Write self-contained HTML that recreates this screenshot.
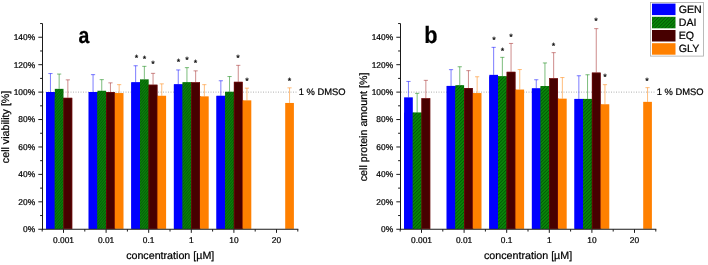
<!DOCTYPE html>
<html lang="en"><head><meta charset="utf-8"><title>Figure</title>
<style>html,body{margin:0;padding:0;background:#fff}svg{display:block;will-change:transform}text{font-family:"Liberation Sans",Arial,sans-serif;text-rendering:geometricPrecision;fill:#000;stroke:#000;stroke-width:0.22px}</style></head><body>
<svg width="708" height="265" viewBox="0 0 708 265">
<defs>
<pattern id="hg" patternUnits="userSpaceOnUse" width="2" height="2" patternTransform="rotate(-50)"><rect width="2" height="2" fill="#0b860b"/><rect width="2" height="0.8" fill="#065406"/></pattern>
<pattern id="he" patternUnits="userSpaceOnUse" width="2" height="2" patternTransform="rotate(-45)"><rect width="2" height="2" fill="#470000"/></pattern>
<pattern id="hl" patternUnits="userSpaceOnUse" width="2.4" height="2.4" patternTransform="rotate(-45)"><rect width="2.4" height="2.4" fill="#098709"/><rect width="2.4" height="0.7" fill="#045004"/></pattern>
</defs>
<rect width="708" height="265" fill="#fff"/>
<line x1="43.0" y1="92.11" x2="297.8" y2="92.11" stroke="#8c8c8c" stroke-width="0.7" stroke-dasharray="1 1.5"/>
<rect x="46.10" y="92.05" width="9.40" height="136.80" fill="#0000ff"/>
<rect x="46.10" y="92.05" width="8.70" height="136.80" fill="#0000ff"/>
<path d="M50.45 92.05V73.55M48.35 73.55H52.55" stroke="#0000ff" stroke-width="0.52" fill="none"/>
<rect x="54.80" y="97.85" width="9.40" height="131.00" fill="#008000"/>
<rect x="54.80" y="88.85" width="8.70" height="140.00" fill="url(#hg)"/>
<path d="M59.15 88.85V74.05M57.05 74.05H61.25" stroke="#008000" stroke-width="0.52" fill="none"/>
<rect x="63.50" y="97.85" width="8.70" height="131.00" fill="url(#he)"/>
<rect x="63.80" y="98.15" width="8.10" height="130.60" fill="none" stroke="#7a0c0c" stroke-width="0.6"/>
<path d="M67.85 97.85V79.85M65.75 79.85H69.95" stroke="#a02020" stroke-width="0.52" fill="none"/>
<rect x="88.70" y="92.05" width="9.40" height="136.80" fill="#0000ff"/>
<rect x="88.70" y="92.05" width="8.70" height="136.80" fill="#0000ff"/>
<path d="M93.05 92.05V74.65M90.95 74.65H95.15" stroke="#0000ff" stroke-width="0.52" fill="none"/>
<rect x="97.40" y="92.05" width="9.40" height="136.80" fill="#008000"/>
<rect x="97.40" y="90.75" width="8.70" height="138.10" fill="url(#hg)"/>
<path d="M101.75 90.75V79.65M99.65 79.65H103.85" stroke="#008000" stroke-width="0.52" fill="none"/>
<rect x="106.10" y="93.05" width="9.40" height="135.80" fill="#470000"/>
<rect x="106.10" y="92.05" width="8.70" height="136.80" fill="url(#he)"/>
<rect x="106.40" y="92.35" width="8.10" height="136.40" fill="none" stroke="#7a0c0c" stroke-width="0.6"/>
<path d="M110.45 92.05V82.85M108.35 82.85H112.55" stroke="#a02020" stroke-width="0.52" fill="none"/>
<rect x="114.80" y="93.05" width="8.70" height="135.80" fill="#ff8000"/>
<path d="M119.15 93.05V84.65M117.05 84.65H121.25" stroke="#ff8000" stroke-width="0.52" fill="none"/>
<rect x="131.30" y="82.35" width="9.40" height="146.50" fill="#0000ff"/>
<rect x="131.30" y="82.35" width="8.70" height="146.50" fill="#0000ff"/>
<path d="M135.65 82.35V65.75M133.55 65.75H137.75" stroke="#0000ff" stroke-width="0.52" fill="none"/>
<rect x="140.00" y="84.75" width="9.40" height="144.10" fill="#008000"/>
<rect x="140.00" y="79.35" width="8.70" height="149.50" fill="url(#hg)"/>
<path d="M144.35 79.35V66.35M142.25 66.35H146.45" stroke="#008000" stroke-width="0.52" fill="none"/>
<rect x="148.70" y="95.75" width="9.40" height="133.10" fill="#470000"/>
<rect x="148.70" y="84.75" width="8.70" height="144.10" fill="url(#he)"/>
<rect x="149.00" y="85.05" width="8.10" height="143.70" fill="none" stroke="#7a0c0c" stroke-width="0.6"/>
<path d="M153.05 84.75V73.35M150.95 73.35H155.15" stroke="#a02020" stroke-width="0.52" fill="none"/>
<rect x="157.40" y="95.75" width="8.70" height="133.10" fill="#ff8000"/>
<path d="M161.75 95.75V83.85M159.65 83.85H163.85" stroke="#ff8000" stroke-width="0.52" fill="none"/>
<rect x="173.90" y="84.35" width="9.40" height="144.50" fill="#0000ff"/>
<rect x="173.90" y="84.35" width="8.70" height="144.50" fill="#0000ff"/>
<path d="M178.25 84.35V69.95M176.15 69.95H180.35" stroke="#0000ff" stroke-width="0.52" fill="none"/>
<rect x="182.60" y="82.35" width="9.40" height="146.50" fill="#008000"/>
<rect x="182.60" y="82.35" width="8.70" height="146.50" fill="url(#hg)"/>
<path d="M186.95 82.35V67.65M184.85 67.65H189.05" stroke="#008000" stroke-width="0.52" fill="none"/>
<rect x="191.30" y="96.35" width="9.40" height="132.50" fill="#470000"/>
<rect x="191.30" y="82.35" width="8.70" height="146.50" fill="url(#he)"/>
<rect x="191.60" y="82.65" width="8.10" height="146.10" fill="none" stroke="#7a0c0c" stroke-width="0.6"/>
<path d="M195.65 82.35V70.85M193.55 70.85H197.75" stroke="#a02020" stroke-width="0.52" fill="none"/>
<rect x="200.00" y="96.35" width="8.70" height="132.50" fill="#ff8000"/>
<path d="M204.35 96.35V84.65M202.25 84.65H206.45" stroke="#ff8000" stroke-width="0.52" fill="none"/>
<rect x="216.50" y="95.85" width="9.40" height="133.00" fill="#0000ff"/>
<rect x="216.50" y="95.85" width="8.70" height="133.00" fill="#0000ff"/>
<path d="M220.85 95.85V80.75M218.75 80.75H222.95" stroke="#0000ff" stroke-width="0.52" fill="none"/>
<rect x="225.20" y="91.85" width="9.40" height="137.00" fill="#008000"/>
<rect x="225.20" y="91.85" width="8.70" height="137.00" fill="url(#hg)"/>
<path d="M229.55 91.85V76.55M227.45 76.55H231.65" stroke="#008000" stroke-width="0.52" fill="none"/>
<rect x="233.90" y="100.35" width="9.40" height="128.50" fill="#470000"/>
<rect x="233.90" y="81.85" width="8.70" height="147.00" fill="url(#he)"/>
<rect x="234.20" y="82.15" width="8.10" height="146.60" fill="none" stroke="#7a0c0c" stroke-width="0.6"/>
<path d="M238.25 81.85V65.35M236.15 65.35H240.35" stroke="#a02020" stroke-width="0.52" fill="none"/>
<rect x="242.60" y="100.35" width="8.70" height="128.50" fill="#ff8000"/>
<path d="M246.95 100.35V88.15M244.85 88.15H249.05" stroke="#ff8000" stroke-width="0.52" fill="none"/>
<rect x="285.20" y="102.95" width="8.70" height="125.90" fill="#ff8000"/>
<path d="M289.55 102.95V87.85M287.45 87.85H291.65" stroke="#ff8000" stroke-width="0.52" fill="none"/>
<path d="M42.5 23.54V229.75M42.0 229.25H298.3" stroke="#1a1a1a" stroke-width="1" fill="none"/>
<path d="M42.5 229.25h-4.2M42.5 215.54h-2.4M42.5 201.82h-4.2M42.5 188.11h-2.4M42.5 174.39h-4.2M42.5 160.68h-2.4M42.5 146.97h-4.2M42.5 133.25h-2.4M42.5 119.54h-4.2M42.5 105.82h-2.4M42.5 92.11h-4.2M42.5 78.40h-2.4M42.5 64.68h-4.2M42.5 50.97h-2.4M42.5 37.25h-4.2M42.5 23.54h-2.4M42.20 229.25v2.3M63.50 229.25v3.6M84.80 229.25v2.3M106.10 229.25v3.6M127.40 229.25v2.3M148.70 229.25v3.6M170.00 229.25v2.3M191.30 229.25v3.6M212.60 229.25v2.3M233.90 229.25v3.6M255.20 229.25v2.3M276.50 229.25v3.6M297.80 229.25v2.3" stroke="#1c1c1c" stroke-width="1" fill="none"/>
<text x="35.1" y="232.20" font-size="8.4" text-anchor="end">0%</text>
<text x="35.1" y="204.77" font-size="8.4" text-anchor="end">20%</text>
<text x="35.1" y="177.34" font-size="8.4" text-anchor="end">40%</text>
<text x="35.1" y="149.92" font-size="8.4" text-anchor="end">60%</text>
<text x="35.1" y="122.49" font-size="8.4" text-anchor="end">80%</text>
<text x="35.1" y="95.06" font-size="8.4" text-anchor="end">100%</text>
<text x="35.1" y="67.63" font-size="8.4" text-anchor="end">120%</text>
<text x="35.1" y="40.20" font-size="8.4" text-anchor="end">140%</text>
<text x="63.50" y="243.0" font-size="8.4" text-anchor="middle">0.001</text>
<text x="106.10" y="243.0" font-size="8.4" text-anchor="middle">0.01</text>
<text x="148.70" y="243.0" font-size="8.4" text-anchor="middle">0.1</text>
<text x="191.30" y="243.0" font-size="8.4" text-anchor="middle">1</text>
<text x="233.90" y="243.0" font-size="8.4" text-anchor="middle">10</text>
<text x="276.50" y="243.0" font-size="8.4" text-anchor="middle">20</text>
<text x="170.2" y="259.4" font-size="10.7" text-anchor="middle">concentration [µM]</text>
<text transform="translate(8.6,126.9) rotate(-90)" font-size="10.7" text-anchor="middle">cell viability [%]</text>
<text x="298.7" y="95.41" font-size="9.4" stroke-width="0.08" fill="#111">1 % DMSO</text>
<text transform="translate(83.8,42.86) scale(0.864,1)" font-size="22.5" font-weight="bold" text-rendering="geometricPrecision" text-anchor="middle" stroke-width="0.35">a</text>
<text x="136.6" y="60.80" font-size="9" text-anchor="middle" fill="#222" stroke-width="0.1">*</text>
<text x="144.4" y="61.70" font-size="9" text-anchor="middle" fill="#222" stroke-width="0.1">*</text>
<text x="153.1" y="67.20" font-size="9" text-anchor="middle" fill="#222" stroke-width="0.1">*</text>
<text x="178.6" y="65.30" font-size="9" text-anchor="middle" fill="#222" stroke-width="0.1">*</text>
<text x="187.1" y="62.70" font-size="9" text-anchor="middle" fill="#222" stroke-width="0.1">*</text>
<text x="195.6" y="66.20" font-size="9" text-anchor="middle" fill="#222" stroke-width="0.1">*</text>
<text x="238.0" y="61.10" font-size="9" text-anchor="middle" fill="#222" stroke-width="0.1">*</text>
<text x="246.9" y="84.40" font-size="9" text-anchor="middle" fill="#222" stroke-width="0.1">*</text>
<text x="289.5" y="83.90" font-size="9" text-anchor="middle" fill="#222" stroke-width="0.1">*</text>
<line x1="401.0" y1="92.11" x2="655.8" y2="92.11" stroke="#8c8c8c" stroke-width="0.7" stroke-dasharray="1 1.5"/>
<rect x="404.10" y="112.65" width="9.40" height="116.20" fill="#0000ff"/>
<rect x="404.10" y="97.35" width="8.70" height="131.50" fill="#0000ff"/>
<path d="M408.45 97.35V81.45M406.35 81.45H410.55" stroke="#0000ff" stroke-width="0.52" fill="none"/>
<rect x="412.80" y="112.65" width="9.40" height="116.20" fill="#008000"/>
<rect x="412.80" y="112.65" width="8.70" height="116.20" fill="url(#hl)"/>
<path d="M417.15 112.65V93.35M415.05 93.35H419.25" stroke="#008000" stroke-width="0.52" fill="none"/>
<rect x="421.50" y="98.35" width="8.70" height="130.50" fill="url(#he)"/>
<rect x="421.80" y="98.65" width="8.10" height="130.10" fill="none" stroke="#7a0c0c" stroke-width="0.6"/>
<path d="M425.85 98.35V80.35M423.75 80.35H427.95" stroke="#a02020" stroke-width="0.52" fill="none"/>
<rect x="446.70" y="85.95" width="9.40" height="142.90" fill="#0000ff"/>
<rect x="446.70" y="85.95" width="8.70" height="142.90" fill="#0000ff"/>
<path d="M451.05 85.95V69.65M448.95 69.65H453.15" stroke="#0000ff" stroke-width="0.52" fill="none"/>
<rect x="455.40" y="88.05" width="9.40" height="140.80" fill="#008000"/>
<rect x="455.40" y="85.15" width="8.70" height="143.70" fill="url(#hl)"/>
<path d="M459.75 85.15V66.75M457.65 66.75H461.85" stroke="#008000" stroke-width="0.52" fill="none"/>
<rect x="464.10" y="93.05" width="9.40" height="135.80" fill="#470000"/>
<rect x="464.10" y="88.05" width="8.70" height="140.80" fill="url(#he)"/>
<rect x="464.40" y="88.35" width="8.10" height="140.40" fill="none" stroke="#7a0c0c" stroke-width="0.6"/>
<path d="M468.45 88.05V70.65M466.35 70.65H470.55" stroke="#a02020" stroke-width="0.52" fill="none"/>
<rect x="472.80" y="93.05" width="8.70" height="135.80" fill="#ff8000"/>
<path d="M477.15 93.05V76.75M475.05 76.75H479.25" stroke="#ff8000" stroke-width="0.52" fill="none"/>
<rect x="489.30" y="76.35" width="9.40" height="152.50" fill="#0000ff"/>
<rect x="489.30" y="74.85" width="8.70" height="154.00" fill="#0000ff"/>
<path d="M493.65 74.85V47.35M491.55 47.35H495.75" stroke="#0000ff" stroke-width="0.52" fill="none"/>
<rect x="498.00" y="76.35" width="9.40" height="152.50" fill="#008000"/>
<rect x="498.00" y="76.35" width="8.70" height="152.50" fill="url(#hl)"/>
<path d="M502.35 76.35V57.35M500.25 57.35H504.45" stroke="#008000" stroke-width="0.52" fill="none"/>
<rect x="506.70" y="89.55" width="9.40" height="139.30" fill="#470000"/>
<rect x="506.70" y="71.85" width="8.70" height="157.00" fill="url(#he)"/>
<rect x="507.00" y="72.15" width="8.10" height="156.60" fill="none" stroke="#7a0c0c" stroke-width="0.6"/>
<path d="M511.05 71.85V43.45M508.95 43.45H513.15" stroke="#a02020" stroke-width="0.52" fill="none"/>
<rect x="515.40" y="89.55" width="8.70" height="139.30" fill="#ff8000"/>
<path d="M519.75 89.55V69.55M517.65 69.55H521.85" stroke="#ff8000" stroke-width="0.52" fill="none"/>
<rect x="531.90" y="88.45" width="9.40" height="140.40" fill="#0000ff"/>
<rect x="531.90" y="88.45" width="8.70" height="140.40" fill="#0000ff"/>
<path d="M536.25 88.45V79.75M534.15 79.75H538.35" stroke="#0000ff" stroke-width="0.52" fill="none"/>
<rect x="540.60" y="86.15" width="9.40" height="142.70" fill="#008000"/>
<rect x="540.60" y="86.15" width="8.70" height="142.70" fill="url(#hl)"/>
<path d="M544.95 86.15V62.95M542.85 62.95H547.05" stroke="#008000" stroke-width="0.52" fill="none"/>
<rect x="549.30" y="98.65" width="9.40" height="130.20" fill="#470000"/>
<rect x="549.30" y="78.35" width="8.70" height="150.50" fill="url(#he)"/>
<rect x="549.60" y="78.65" width="8.10" height="150.10" fill="none" stroke="#7a0c0c" stroke-width="0.6"/>
<path d="M553.65 78.35V52.65M551.55 52.65H555.75" stroke="#a02020" stroke-width="0.52" fill="none"/>
<rect x="558.00" y="98.65" width="8.70" height="130.20" fill="#ff8000"/>
<path d="M562.35 98.65V77.55M560.25 77.55H564.45" stroke="#ff8000" stroke-width="0.52" fill="none"/>
<rect x="574.50" y="98.95" width="9.40" height="129.90" fill="#0000ff"/>
<rect x="574.50" y="98.95" width="8.70" height="129.90" fill="#0000ff"/>
<path d="M578.85 98.95V75.75M576.75 75.75H580.95" stroke="#0000ff" stroke-width="0.52" fill="none"/>
<rect x="583.20" y="98.95" width="9.40" height="129.90" fill="#008000"/>
<rect x="583.20" y="98.95" width="8.70" height="129.90" fill="url(#hl)"/>
<path d="M587.55 98.95V74.75M585.45 74.75H589.65" stroke="#008000" stroke-width="0.52" fill="none"/>
<rect x="591.90" y="104.25" width="9.40" height="124.60" fill="#470000"/>
<rect x="591.90" y="72.65" width="8.70" height="156.20" fill="url(#he)"/>
<rect x="592.20" y="72.95" width="8.10" height="155.80" fill="none" stroke="#7a0c0c" stroke-width="0.6"/>
<path d="M596.25 72.65V28.65M594.15 28.65H598.35" stroke="#a02020" stroke-width="0.52" fill="none"/>
<rect x="600.60" y="104.25" width="8.70" height="124.60" fill="#ff8000"/>
<path d="M604.95 104.25V84.65M602.85 84.65H607.05" stroke="#ff8000" stroke-width="0.52" fill="none"/>
<rect x="643.20" y="101.85" width="8.70" height="127.00" fill="#ff8000"/>
<path d="M647.55 101.85V87.65M645.45 87.65H649.65" stroke="#ff8000" stroke-width="0.52" fill="none"/>
<path d="M400.5 23.54V229.75M400.0 229.25H656.3" stroke="#1a1a1a" stroke-width="1" fill="none"/>
<path d="M400.5 229.25h-4.2M400.5 215.54h-2.4M400.5 201.82h-4.2M400.5 188.11h-2.4M400.5 174.39h-4.2M400.5 160.68h-2.4M400.5 146.97h-4.2M400.5 133.25h-2.4M400.5 119.54h-4.2M400.5 105.82h-2.4M400.5 92.11h-4.2M400.5 78.40h-2.4M400.5 64.68h-4.2M400.5 50.97h-2.4M400.5 37.25h-4.2M400.5 23.54h-2.4M400.20 229.25v2.3M421.50 229.25v3.6M442.80 229.25v2.3M464.10 229.25v3.6M485.40 229.25v2.3M506.70 229.25v3.6M528.00 229.25v2.3M549.30 229.25v3.6M570.60 229.25v2.3M591.90 229.25v3.6M613.20 229.25v2.3M634.50 229.25v3.6M655.80 229.25v2.3" stroke="#1c1c1c" stroke-width="1" fill="none"/>
<text x="393.1" y="232.20" font-size="8.4" text-anchor="end">0%</text>
<text x="393.1" y="204.77" font-size="8.4" text-anchor="end">20%</text>
<text x="393.1" y="177.34" font-size="8.4" text-anchor="end">40%</text>
<text x="393.1" y="149.92" font-size="8.4" text-anchor="end">60%</text>
<text x="393.1" y="122.49" font-size="8.4" text-anchor="end">80%</text>
<text x="393.1" y="95.06" font-size="8.4" text-anchor="end">100%</text>
<text x="393.1" y="67.63" font-size="8.4" text-anchor="end">120%</text>
<text x="393.1" y="40.20" font-size="8.4" text-anchor="end">140%</text>
<text x="421.50" y="243.0" font-size="8.4" text-anchor="middle">0.001</text>
<text x="464.10" y="243.0" font-size="8.4" text-anchor="middle">0.01</text>
<text x="506.70" y="243.0" font-size="8.4" text-anchor="middle">0.1</text>
<text x="549.30" y="243.0" font-size="8.4" text-anchor="middle">1</text>
<text x="591.90" y="243.0" font-size="8.4" text-anchor="middle">10</text>
<text x="634.50" y="243.0" font-size="8.4" text-anchor="middle">20</text>
<text x="528.1" y="259.4" font-size="10.7" text-anchor="middle">concentration [µM]</text>
<text transform="translate(366.9,126.9) rotate(-90)" font-size="10.7" text-anchor="middle">cell protein amount [%]</text>
<text x="656.7" y="95.41" font-size="9.4" stroke-width="0.08" fill="#111">1 % DMSO</text>
<text transform="translate(430.85,42.9) scale(0.92,1)" font-size="23.6" font-weight="bold" text-rendering="geometricPrecision" text-anchor="middle" stroke-width="0.35">b</text>
<text x="494.0" y="42.60" font-size="9" text-anchor="middle" fill="#222" stroke-width="0.1">*</text>
<text x="502.4" y="53.90" font-size="9" text-anchor="middle" fill="#222" stroke-width="0.1">*</text>
<text x="511.0" y="39.60" font-size="9" text-anchor="middle" fill="#222" stroke-width="0.1">*</text>
<text x="553.4" y="48.60" font-size="9" text-anchor="middle" fill="#222" stroke-width="0.1">*</text>
<text x="596.1" y="23.80" font-size="9" text-anchor="middle" fill="#222" stroke-width="0.1">*</text>
<text x="605.0" y="79.70" font-size="9" text-anchor="middle" fill="#222" stroke-width="0.1">*</text>
<text x="647.0" y="83.50" font-size="9" text-anchor="middle" fill="#222" stroke-width="0.1">*</text>
<rect x="650.5" y="2.5" width="53" height="53.6" fill="#fff" stroke="#aaa" stroke-width="0.8"/>
<rect x="652" y="3.60" width="23.5" height="11.5" fill="#0000ff"/>
<text x="678.8" y="12.65" font-size="10.6" stroke-width="0.08" fill="#111">GEN</text>
<rect x="652" y="16.80" width="23.5" height="11.5" fill="url(#hl)"/>
<text x="678.8" y="25.85" font-size="10.6" stroke-width="0.08" fill="#111">DAI</text>
<rect x="652" y="30.00" width="23.5" height="11.5" fill="url(#he)"/>
<text x="678.8" y="39.05" font-size="10.6" stroke-width="0.08" fill="#111">EQ</text>
<rect x="652" y="43.20" width="23.5" height="11.5" fill="#ff8000"/>
<text x="678.8" y="52.25" font-size="10.6" stroke-width="0.08" fill="#111">GLY</text>
</svg></body></html>
